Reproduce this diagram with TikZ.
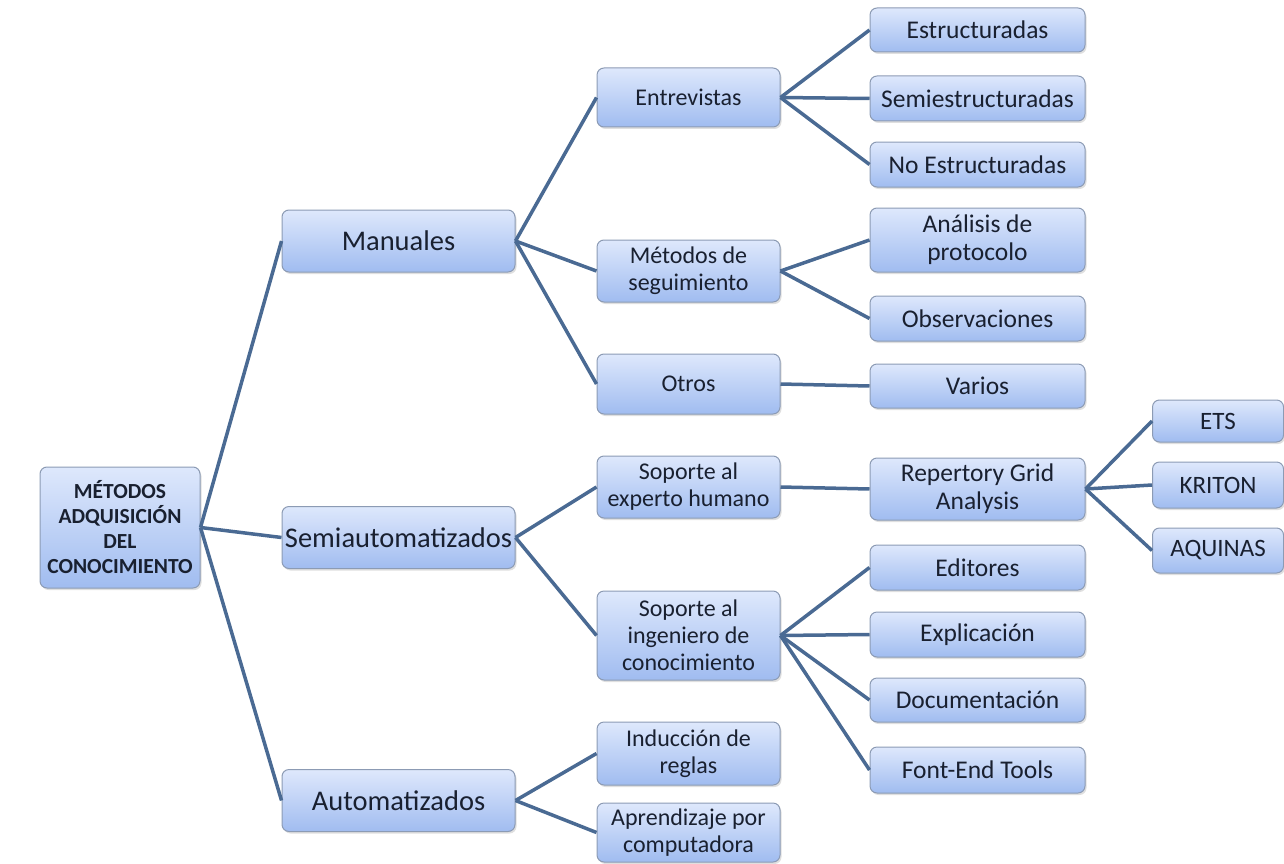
\documentclass[tikz,border=0pt]{standalone}
\usepackage{fontspec}
\setmainfont{Carlito}
\usetikzlibrary{shadows}
\definecolor{edgec}{RGB}{74,106,147}
\definecolor{topc}{RGB}{222,232,252}
\definecolor{botc}{RGB}{160,188,240}
\definecolor{bordc}{RGB}{140,155,180}
\definecolor{txtc}{RGB}{25,32,48}
\tikzset{
  box/.style={draw=bordc, line width=1pt, rounded corners=7pt, top color=topc, bottom color=botc,
    align=center, inner sep=2pt, font=\fontsize{24}{27}\selectfont, text=txtc,
    drop shadow={opacity=0.25, shadow xshift=1.5pt, shadow yshift=-2pt}},
  rootbox/.style={box, minimum width=160pt, minimum height=121pt, font=\bfseries\fontsize{21.5}{25}\selectfont},
  lone/.style={box, minimum width=233pt, minimum height=62pt, font=\fontsize{28.5}{31}\selectfont},
  ltwo/.style={box, minimum width=183pt},
  lthree/.style={box, minimum width=215pt, font=\fontsize{25.5}{28}\selectfont},
  lfour/.style={box, minimum width=131pt, font=\fontsize{25}{28}\selectfont},
  conn/.style={draw=edgec, line width=3.5pt},
}
\begin{document}
\begin{tikzpicture}[x=1pt, y=-1pt]
\useasboundingbox (0,0) rectangle (1284,864);
% root
\node[rootbox] (root) at (120,527.5) {MÉTODOS\\ADQUISICIÓN\\DEL\\CONOCIMIENTO};
% level 1
\node[lone] (man) at (398.5,241) {Manuales};
\node[lone] (semi) at (398.5,537.5) {Semiautomatizados};
\node[lone] (auto) at (398.5,800.5) {Automatizados};
% level 2
\node[ltwo, minimum height=59pt] (entr) at (688.5,97.5) {Entrevistas};
\node[ltwo, minimum height=62pt] (seg) at (688.5,271) {Métodos de\\seguimiento};
\node[ltwo, minimum height=60pt] (otros) at (688.5,384) {Otros};
\node[ltwo, minimum height=62pt] (exp) at (688.5,487) {Soporte al\\experto humano};
\node[ltwo, minimum height=89pt] (ing) at (688.5,635.5) {Soporte al\\ingeniero de\\conocimiento};
\node[ltwo, minimum height=63pt] (ind) at (688.5,753.5) {Inducción de\\reglas};
\node[ltwo, minimum height=59pt] (apr) at (688.5,832.5) {Aprendizaje por\\computadora};
% level 3
\node[lthree, minimum height=44pt] (estr) at (977.5,30) {Estructuradas};
\node[lthree, minimum height=45pt] (sest) at (977.5,98.5) {Semiestructuradas};
\node[lthree, minimum height=45pt] (nest) at (977.5,164.5) {No Estructuradas};
\node[lthree, minimum height=64pt] (anal) at (977.5,240) {Análisis de\\protocolo};
\node[lthree, minimum height=45pt] (obs) at (977.5,318.5) {Observaciones};
\node[lthree, minimum height=44pt] (var) at (977.5,386) {Varios};
\node[lthree, minimum height=62pt] (rep) at (977.5,489) {Repertory Grid\\Analysis};
\node[lthree, minimum height=45pt] (edit) at (977.5,567.5) {Editores};
\node[lthree, minimum height=45pt] (expl) at (977.5,634.5) {Explicación};
\node[lthree, minimum height=44pt] (doc) at (977.5,700) {Documentación};
\node[lthree, minimum height=46pt] (font) at (977.5,770) {Font-End Tools};
% level 4
\node[lfour, minimum height=42pt] (ets) at (1218,421) {ETS};
\node[lfour, minimum height=46pt] (kri) at (1218,485) {KRITON};
\node[lfour, minimum height=45pt] (aqu) at (1218,550.5) {AQUINAS};
% connectors
\foreach \a/\b in {root/man, root/semi, root/auto,
  man/entr, man/seg, man/otros,
  semi/exp, semi/ing, auto/ind, auto/apr,
  entr/estr, entr/sest, entr/nest,
  seg/anal, seg/obs, otros/var,
  exp/rep, ing/edit, ing/expl, ing/doc, ing/font,
  rep/ets, rep/kri, rep/aqu}
  \draw[conn] (\a.east) -- (\b.west);
\end{tikzpicture}
\end{document}
